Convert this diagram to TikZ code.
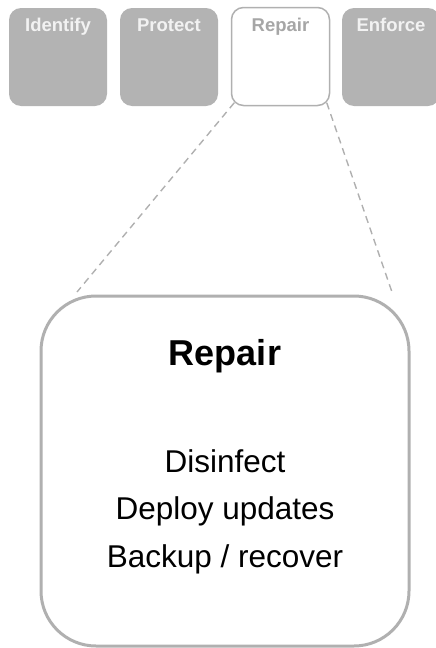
\documentclass[tikz,border=0pt]{standalone}
\usepackage{fontspec}
\setmainfont{Liberation Sans}
\definecolor{boxgray}{HTML}{B3B3B3}
\definecolor{linegray}{HTML}{B0B0B0}
\definecolor{pale}{HTML}{F2F2F2}
\definecolor{labgray}{HTML}{A6A6A6}
\tikzset{
  phase/.style={rectangle, rounded corners=12, minimum width=98, minimum height=98,
    inner sep=0, fill=boxgray, draw=none},
  current/.style={phase, fill=white, draw=linegray, line width=1.5},
  phaselabel/.style={anchor=base, inner sep=0, font=\bfseries\fontsize{18.5}{20}\selectfont, text=pale},
  detail/.style={rectangle, rounded corners=55, minimum width=368, minimum height=350,
    inner sep=0, draw=linegray, line width=3, fill=white},
  zoomline/.style={draw=linegray, line width=1.4, dash pattern=on 7 off 5},
  itemtext/.style={anchor=base, inner sep=0, font=\fontsize{31.5}{36}\selectfont},
}
\begin{document}
\begin{tikzpicture}[x=1pt, y=-1pt]
  \useasboundingbox (0,0) rectangle (436,648);
  \clip (0,0) rectangle (436,648);

  % row of phases
  \node[phase]   (identify) at (58,57)  {};
  \node[phase]   (protect)  at (169,57) {};
  \node[current] (repair)   at (280.5,56.5) {};
  \node[phase]   (enforce)  at (391,57) {};
  \node[phaselabel] (lid) at (58,31)    {Identify};
  \node[phaselabel] (lpr) at (169,31)   {Protect};
  \node[phaselabel, text=labgray] (lre) at (280.5,31) {Repair};
  \node[phaselabel] (len) at (391,31)   {Enforce};

  % enlarged view of the current phase
  \node[detail] (big) at (225,471) {};
  \node[anchor=base, inner sep=0, font=\bfseries\fontsize{36}{40}\selectfont] (title) at (225,365) {Repair};
  \node[itemtext] (i1) at (225,472) {Disinfect};
  \node[itemtext] (i2) at (225,519) {Deploy updates};
  \node[itemtext] (i3) at (225,567) {Backup / recover};

  % dashed zoom guides
  \coordinate (zl) at (77,292);
  \coordinate (zr) at (393,295);
  \draw[zoomline] ([shift={(3.5,-3.5)}]repair.south west) -- (zl);
  \draw[zoomline] ([shift={(-3.5,-3.5)}]repair.south east) -- (zr);
\end{tikzpicture}
\end{document}
